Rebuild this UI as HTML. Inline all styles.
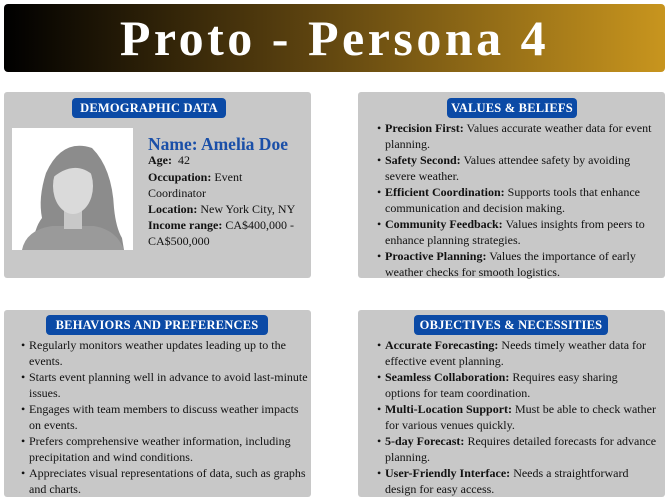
<!DOCTYPE html>
<html><head><meta charset="utf-8"><style>
body{margin:0;width:671px;height:504px;background:#fff;position:relative;overflow:hidden;font-family:"Liberation Serif",serif;color:#111}
.hdr{position:absolute;left:4px;top:4px;width:661px;height:68px;border-radius:4px;background:linear-gradient(90deg,#000 0%,#5a410f 45%,#c8951e 100%);color:#fff;font-weight:bold;font-size:50px;letter-spacing:3.5px;text-align:center;line-height:68px}
.panel{position:absolute;background:#c8c8c8;border-radius:3px}
.badge{position:absolute;background:#0b4aa6;color:#fff;font-weight:bold;font-size:12.5px;text-align:center;border-radius:4px;height:20px;line-height:20px;letter-spacing:0.2px}
.ln{position:absolute;font-size:12px;white-space:nowrap;line-height:16px}
.ln.b::before{content:"•";position:absolute;left:-8px}
b{font-weight:bold}
</style></head><body>
<div class="hdr">Proto - Persona 4</div>

<div class="panel" style="left:4px;top:92px;width:307px;height:186px"></div>
<div class="badge" style="left:72px;top:98px;width:154px">DEMOGRAPHIC DATA</div>
<svg style="position:absolute;left:12px;top:128px" width="121" height="122">
<rect width="121" height="122" fill="#fff"/>
<path d="M34 45 Q50 10 80 20 Q100 40 102 80 Q104 100 110 110 L112 122 L20 122 Q22 100 30 90 Q26 70 34 45Z" fill="#8c8c8c"/>
<path d="M10 122 Q14 102 40 98 L82 98 Q105 102 112 122Z" fill="#9a9a9a"/>
<rect x="52" y="75" width="18" height="26" fill="#c8c8c8"/>
<ellipse cx="61" cy="58" rx="20" ry="28" fill="#dadada"/>
<path d="M38 52 Q45 20 75 26 Q86 34 82 48 Q62 30 38 52Z" fill="#8c8c8c"/>
</svg>
<div class="ln" style="left:148px;top:134px;font-size:17.5px;font-weight:bold;color:#1a4fa8;line-height:20px">Name: Amelia Doe</div>
<div class="ln" style="left:148px;top:152px"><b>Age:</b>&nbsp; 42</div>
<div class="ln" style="left:148px;top:169px"><b>Occupation:</b> Event</div>
<div class="ln" style="left:148px;top:185px">Coordinator</div>
<div class="ln" style="left:148px;top:201px"><b>Location:</b> New York City, NY</div>
<div class="ln" style="left:148px;top:217px"><b>Income range:</b> CA$400,000 -</div>
<div class="ln" style="left:148px;top:233px">CA$500,000</div>

<div class="panel" style="left:358px;top:92px;width:307px;height:186px"></div>
<div class="badge" style="left:447px;top:98px;width:130px">VALUES &amp; BELIEFS</div>
<div class="ln b" style="left:385px;top:120px"><b>Precision First:</b> Values accurate weather data for event</div>
<div class="ln" style="left:385px;top:136px">planning.</div>
<div class="ln b" style="left:385px;top:152px"><b>Safety Second:</b> Values attendee safety by avoiding</div>
<div class="ln" style="left:385px;top:168px">severe weather.</div>
<div class="ln b" style="left:385px;top:184px"><b>Efficient Coordination:</b> Supports tools that enhance</div>
<div class="ln" style="left:385px;top:200px">communication and decision making.</div>
<div class="ln b" style="left:385px;top:216px"><b>Community Feedback:</b> Values insights from peers to</div>
<div class="ln" style="left:385px;top:232px">enhance planning strategies.</div>
<div class="ln b" style="left:385px;top:248px"><b>Proactive Planning:</b> Values the importance of early</div>
<div class="ln" style="left:385px;top:264px">weather checks for smooth logistics.</div>

<div class="panel" style="left:4px;top:310px;width:307px;height:187px"></div>
<div class="badge" style="left:46px;top:315px;width:222px">BEHAVIORS AND PREFERENCES</div>
<div class="ln b" style="left:29px;top:337px">Regularly monitors weather updates leading up to the</div>
<div class="ln" style="left:29px;top:353px">events.</div>
<div class="ln b" style="left:29px;top:369px">Starts event planning well in advance to avoid last-minute</div>
<div class="ln" style="left:29px;top:385px">issues.</div>
<div class="ln b" style="left:29px;top:401px">Engages with team members to discuss weather impacts</div>
<div class="ln" style="left:29px;top:417px">on events.</div>
<div class="ln b" style="left:29px;top:433px">Prefers comprehensive weather information, including</div>
<div class="ln" style="left:29px;top:449px">precipitation and wind conditions.</div>
<div class="ln b" style="left:29px;top:465px">Appreciates visual representations of data, such as graphs</div>
<div class="ln" style="left:29px;top:481px">and charts.</div>

<div class="panel" style="left:358px;top:310px;width:307px;height:187px"></div>
<div class="badge" style="left:414px;top:315px;width:194px">OBJECTIVES &amp; NECESSITIES</div>
<div class="ln b" style="left:385px;top:337px"><b>Accurate Forecasting:</b> Needs timely weather data for</div>
<div class="ln" style="left:385px;top:353px">effective event planning.</div>
<div class="ln b" style="left:385px;top:369px"><b>Seamless Collaboration:</b> Requires easy sharing</div>
<div class="ln" style="left:385px;top:385px">options for team coordination.</div>
<div class="ln b" style="left:385px;top:401px"><b>Multi-Location Support:</b> Must be able to check wather</div>
<div class="ln" style="left:385px;top:417px">for various venues quickly.</div>
<div class="ln b" style="left:385px;top:433px"><b>5-day Forecast:</b> Requires detailed forecasts for advance</div>
<div class="ln" style="left:385px;top:449px">planning.</div>
<div class="ln b" style="left:385px;top:465px"><b>User-Friendly Interface:</b> Needs a straightforward</div>
<div class="ln" style="left:385px;top:481px">design for easy access.</div>
</body></html>
